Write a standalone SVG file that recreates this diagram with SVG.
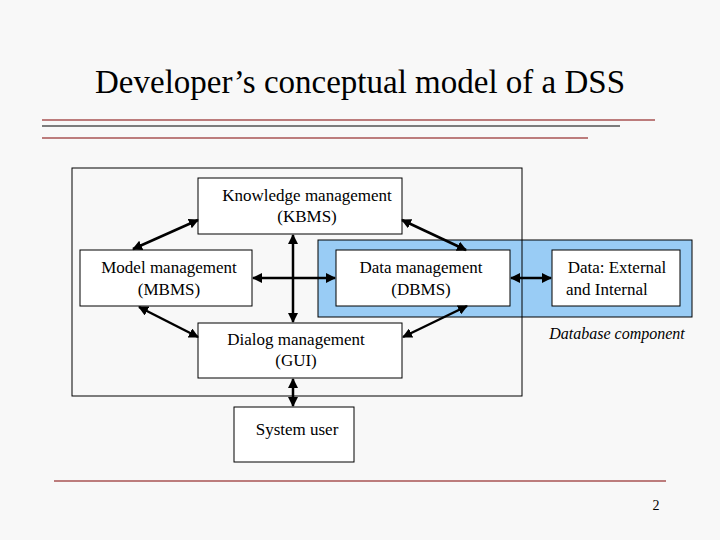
<svg xmlns="http://www.w3.org/2000/svg" width="720" height="540" viewBox="0 0 720 540">
<style>
.b{fill:#fff;stroke:#000;stroke-width:1}
.t{font-family:"Liberation Serif",serif;font-size:17px;fill:#000;text-anchor:middle}
.c line{stroke:#000;stroke-width:2.5;marker-start:url(#a);marker-end:url(#a)}
</style>
<defs><marker id="a" viewBox="0 0 10 10" refX="9" refY="5" markerWidth="4" markerHeight="4" orient="auto-start-reverse"><path d="M0,0L10,5L0,10z" fill="#000"/></marker></defs>
<rect width="720" height="540" fill="#f8f8f8"/>
<text x="360" y="93" font-family="Liberation Serif,serif" font-size="33" text-anchor="middle">Developer’s conceptual model of a DSS</text>
<line x1="42" y1="120" x2="655" y2="120" stroke="#800000"/>
<line x1="42" y1="126" x2="620" y2="126" stroke="#000"/>
<line x1="42" y1="138" x2="588" y2="138" stroke="#800000"/>
<line x1="54" y1="481" x2="666" y2="481" stroke="#800000"/>
<text x="656" y="510" font-family="Liberation Serif,serif" font-size="14" text-anchor="middle">2</text>
<rect x="318" y="240" width="374" height="77" fill="#99ccf5" stroke="#000"/>
<rect x="72" y="168" width="450" height="228" fill="none" stroke="#000"/>
<text x="617" y="339" font-family="Liberation Serif,serif" font-size="16" font-style="italic" text-anchor="middle">Database component</text>
<g id="kbms"><rect class="b" x="198" y="178" width="204" height="56"/><text class="t" x="307" y="201">Knowledge management</text><text class="t" x="307" y="222">(KBMS)</text></g>
<g id="mbms"><rect class="b" x="80" y="250" width="172" height="56"/><text class="t" x="169" y="273">Model management</text><text class="t" x="169" y="295">(MBMS)</text></g>
<g id="dbms"><rect class="b" x="336" y="250" width="174" height="56"/><text class="t" x="421" y="273">Data management</text><text class="t" x="421" y="295">(DBMS)</text></g>
<g id="data"><rect class="b" x="552" y="250" width="128" height="56"/><text class="t" x="617" y="273">Data: External</text><text class="t" x="566" y="295" style="text-anchor:start">and Internal</text></g>
<g id="dialog"><rect class="b" x="198" y="323" width="204" height="55"/><text class="t" x="296" y="345">Dialog management</text><text class="t" x="296" y="366">(GUI)</text></g>
<g id="user"><rect class="b" x="234" y="407" width="120" height="55"/><text class="t" x="297" y="435">System user</text></g>
<g class="c">
<line x1="198" y1="220" x2="133" y2="249"/>
<line x1="402" y1="220" x2="466" y2="250"/>
<line x1="293" y1="235" x2="293" y2="322"/>
<line x1="253" y1="278" x2="335" y2="278"/>
<line x1="139" y1="307" x2="198" y2="337"/>
<line x1="467" y1="306" x2="403" y2="337"/>
<line x1="511" y1="278" x2="551" y2="278"/>
<line x1="293" y1="379" x2="293" y2="406"/>
</g>
</svg>
